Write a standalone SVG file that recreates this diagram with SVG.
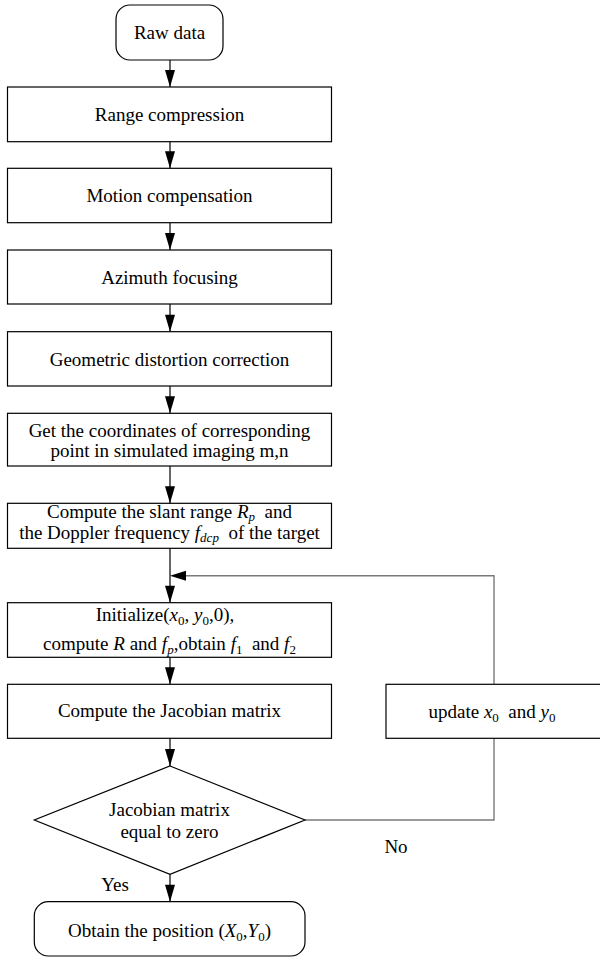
<svg xmlns="http://www.w3.org/2000/svg" width="600" height="959" viewBox="0 0 600 959">
<style>
.box{fill:#fff;stroke:#000;stroke-width:1.2}
.t{font-family:"Liberation Serif","Times New Roman",serif;font-size:19px;fill:#000;text-anchor:middle}
.i{font-style:italic}
.s{font-size:13px}
.c{fill:none;stroke:#000;stroke-width:1.2}
.g{fill:none;stroke:#7a7a7a;stroke-width:1.4}
</style>
<defs>
<marker id="ah" markerUnits="userSpaceOnUse" markerWidth="17" markerHeight="10" viewBox="0 0 17 10" refX="17" refY="5" orient="auto" overflow="visible">
<path d="M0,0 L17,5 L0,10 Z" fill="#000"/>
</marker>
</defs>
<g id="connectors">
<path class="c" d="M170,60 V87" marker-end="url(#ah)"/>
<path class="c" d="M170,141.7 V168.3" marker-end="url(#ah)"/>
<path class="c" d="M170,222.7 V250" marker-end="url(#ah)"/>
<path class="c" d="M170,304 V331.7" marker-end="url(#ah)"/>
<path class="c" d="M170,386 V413.3" marker-end="url(#ah)"/>
<path class="c" d="M170,466 V503.3" marker-end="url(#ah)"/>
<path class="c" d="M170,548.3 V602.7" marker-end="url(#ah)"/>
<path class="c" d="M170,657.3 V684.3" marker-end="url(#ah)"/>
<path class="c" d="M170,738.3 V766" marker-end="url(#ah)"/>
<path class="c" d="M170,874.3 V901.7" marker-end="url(#ah)"/>
<path class="g" d="M305,820 H494 V738.3"/>
<path class="g" d="M494,684.3 V575.7 H186"/>
<path d="M170,575.7 L186,570.7 L186,580.7 Z" fill="#000"/>
<text class="t" x="115" y="891">Yes</text>
<text class="t" x="396" y="853">No</text>
</g>
<g id="raw">
<rect class="box" x="116" y="5" width="107" height="55" rx="14"/>
<text class="t" x="169.5" y="39">Raw data</text>
</g>
<g id="range">
<rect class="box" x="7.5" y="87" width="324" height="54.7"/>
<text class="t" x="169.5" y="120.5">Range compression</text>
</g>
<g id="motion">
<rect class="box" x="7.5" y="168.3" width="324" height="54.4"/>
<text class="t" x="169.5" y="202">Motion compensation</text>
</g>
<g id="azimuth">
<rect class="box" x="7.5" y="250" width="324" height="54"/>
<text class="t" x="169.5" y="283.5">Azimuth focusing</text>
</g>
<g id="geometric">
<rect class="box" x="7.5" y="331.7" width="324" height="54.3"/>
<text class="t" x="169.5" y="365.5">Geometric distortion correction</text>
</g>
<g id="coords">
<rect class="box" x="7.5" y="413.3" width="324" height="52.7"/>
<text class="t" x="169.5" y="437">Get the coordinates of corresponding</text>
<text class="t" x="169.5" y="457">point in simulated imaging m,n</text>
</g>
<g id="slant">
<rect class="box" x="7.5" y="503.3" width="324" height="45"/>
<text class="t" x="169.5" y="517.5">Compute the slant range <tspan class="i">R</tspan><tspan class="i s" dy="3">p</tspan><tspan dy="-3" xml:space="preserve">  and</tspan></text>
<text class="t" x="169.5" y="539">the Doppler frequency <tspan class="i">f</tspan><tspan class="i s" dy="3">dcp</tspan><tspan dy="-3" xml:space="preserve">  of the target</tspan></text>
</g>
<g id="init">
<rect class="box" x="7.5" y="602.7" width="324" height="54.6"/>
<text class="t" x="165" y="621">Initialize(<tspan class="i">x</tspan><tspan class="s" dy="4">0</tspan><tspan dy="-4">, </tspan><tspan class="i">y</tspan><tspan class="s" dy="4">0</tspan><tspan dy="-4">,0),</tspan></text>
<text class="t" x="169.5" y="650">compute <tspan class="i">R</tspan> and <tspan class="i">f</tspan><tspan class="i s" dy="4">p</tspan><tspan dy="-4">,obtain </tspan><tspan class="i">f</tspan><tspan class="s" dy="4">1</tspan><tspan dy="-4" xml:space="preserve">  and </tspan><tspan class="i">f</tspan><tspan class="s" dy="4">2</tspan></text>
</g>
<g id="jacobian">
<rect class="box" x="7.5" y="684.3" width="324" height="54"/>
<text class="t" x="169.5" y="717">Compute the Jacobian matrix</text>
</g>
<g id="update">
<rect class="box" x="386" y="684.3" width="230" height="54"/>
<text class="t" x="492" y="718">update <tspan class="i">x</tspan><tspan class="s" dy="4">0</tspan><tspan dy="-4" xml:space="preserve">  and </tspan><tspan class="i">y</tspan><tspan class="s" dy="4">0</tspan></text>
</g>
<g id="decision">
<polygon class="box" points="170,766 305,820 170,874.3 34.3,820"/>
<text class="t" x="169.5" y="816">Jacobian matrix</text>
<text class="t" x="169.5" y="838">equal to zero</text>
</g>
<g id="obtain">
<rect class="box" x="34.3" y="901.7" width="270.7" height="54.3" rx="14"/>
<text class="t" x="169.5" y="937">Obtain the position (<tspan class="i">X</tspan><tspan class="s" dy="4">0</tspan><tspan dy="-4">,</tspan><tspan class="i">Y</tspan><tspan class="s" dy="4">0</tspan><tspan dy="-4">)</tspan></text>
</g>
</svg>
